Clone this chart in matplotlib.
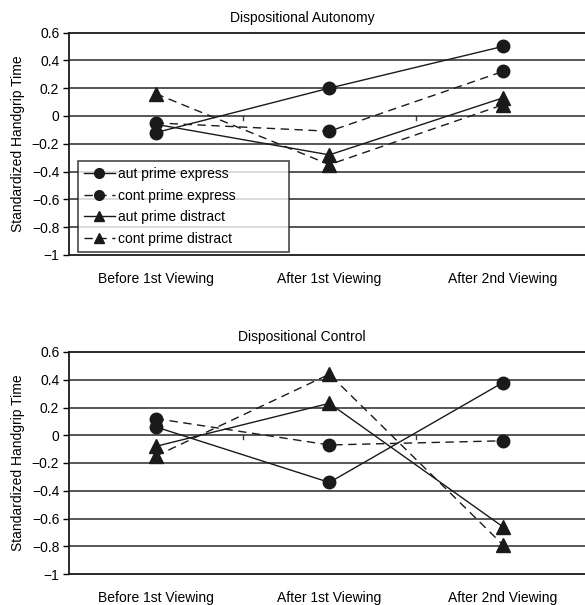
import matplotlib
matplotlib.use("Agg")
import matplotlib.pyplot as plt
import numpy as np

plt.rcParams['font.family'] = ['Liberation Sans', 'DejaVu Sans']

stages = ["Before 1st Viewing", "After 1st Viewing", "After 2nd Viewing"]
yticks = [0.6, 0.4, 0.2, 0, -0.2, -0.4, -0.6, -0.8, -1]
ytick_labels = ["0.6", "0.4", "0.2", "0", "\u22120.2", "\u22120.4", "\u22120.6", "\u22120.8", "\u22121"]

series_names = ["aut prime express", "cont prime express", "aut prime distract", "cont prime distract"]

# Dispositional Autonomy
autonomy = {
    "aut prime express":   [-0.12, 0.20, 0.50],
    "cont prime express":  [-0.05, -0.11, 0.32],
    "aut prime distract":  [-0.06, -0.28, 0.13],
    "cont prime distract": [0.16, -0.35, 0.08],
}
# Dispositional Control
control = {
    "aut prime express":   [0.06, -0.34, 0.38],
    "cont prime express":  [0.12, -0.07, -0.04],
    "aut prime distract":  [-0.08, 0.23, -0.66],
    "cont prime distract": [-0.15, 0.44, -0.79],
}

styles = {
    "aut prime express":   dict(ls='-', marker='o', ms=9),
    "cont prime express":  dict(ls=(0, (6, 4)), marker='o', ms=9),
    "aut prime distract":  dict(ls='-', marker='^', ms=10),
    "cont prime distract": dict(ls=(0, (6, 4)), marker='^', ms=10),
}
# points whose marker is hidden in the original
hidden = {("autonomy", "aut prime distract"): [0]}

fig = plt.figure(figsize=(5.85, 6.05), dpi=100)
ax1 = fig.add_axes([69 / 585, 1 - 255 / 605, 1 - 69 / 585 + 0.02, 222.5 / 605])
ax2 = fig.add_axes([69 / 585, 1 - 574 / 605, 1 - 69 / 585 + 0.02, 222 / 605])

x = np.arange(len(stages))

def draw(ax, data, key, title, title_y):
    for name in series_names:
        st = styles[name]
        vals = data[name]
        ax.plot(x, vals, color='#1a1a1a', lw=1.0, ls=st['ls'], zorder=3)
        skip = hidden.get((key, name), [])
        mx = [xi for i, xi in enumerate(x) if i not in skip]
        my = [v for i, v in enumerate(vals) if i not in skip]
        ax.plot(mx, my, ls='none', marker=st['marker'], color='#1a1a1a',
                markersize=st['ms'], zorder=4)
    ax.set_xlim(-0.5, len(stages) - 0.5 + 0.04)
    ax.set_ylim(-1, 0.6)
    ax.set_yticks(yticks)
    ax.set_yticklabels(ytick_labels, fontsize=10)
    for yv in yticks[1:-1]:
        ax.axhline(yv, color='#3a3a3a', lw=1.2, zorder=1)
    # category separator ticks on the zero line
    for b in np.arange(len(stages) - 1) + 0.5:
        ax.plot([b, b], [0, -0.03], color='#3a3a3a', lw=1.0, zorder=1)
    ax.set_xticks(x)
    ax.set_xticklabels(stages, fontsize=10)
    ax.tick_params(axis='x', length=0, pad=12)
    ax.tick_params(axis='y', length=4, width=1, direction='out', pad=3)
    for s in ['left', 'bottom', 'top']:
        ax.spines[s].set_linewidth(1.3)
        ax.spines[s].set_color('#1a1a1a')
    ax.spines['right'].set_visible(False)
    ax.set_ylabel("Standardized Handgrip Time", fontsize=10, labelpad=5)
    fig.text(302 / 585, title_y, title, ha='center', va='center', fontsize=10)

draw(ax1, autonomy, "autonomy", "Dispositional Autonomy", 1 - 18 / 605)
draw(ax2, control, "control", "Dispositional Control", 1 - 337 / 605)

# legend for the top panel
handles = []
for name in series_names:
    st = styles[name]
    h, = ax1.plot([], [], color='#1a1a1a', lw=1.0, ls=st['ls'],
                  marker=st['marker'], markersize=7)
    handles.append(h)
leg = ax1.legend(handles, series_names, loc='lower left', mode='expand',
                 bbox_to_anchor=(0.017, 0.013, 0.40, 0.1), fontsize=10,
                 frameon=True, fancybox=False, edgecolor='#1a1a1a',
                 handlelength=2.2, handletextpad=0.2, borderpad=0.45,
                 labelspacing=0.55, borderaxespad=0)
leg.get_frame().set_linewidth(1.2)
leg.set_zorder(5)

fig.savefig("out.png", dpi=100)
